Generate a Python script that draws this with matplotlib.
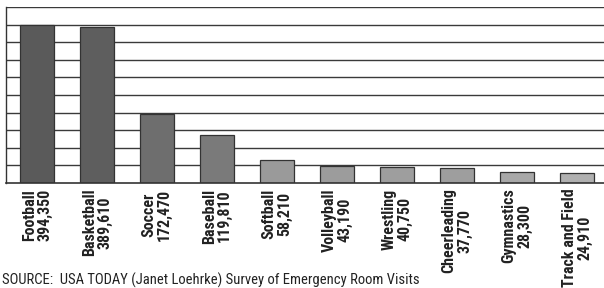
import matplotlib
matplotlib.use("Agg")
import matplotlib.pyplot as plt
from matplotlib import font_manager

sports = ["Football", "Basketball", "Soccer", "Baseball", "Softball",
          "Volleyball", "Wrestling", "Cheerleading", "Gymnastics", "Track and Field"]
visits = [394350, 389610, 172470, 119810, 58210, 43190, 40750, 37770, 28300, 24910]
value_labels = ["394,350", "389,610", "172,470", "119,810", "58,210",
                "43,190", "40,750", "37,770", "28,300", "24,910"]
bar_colors = ["#5a5a5a", "#5e5e5e", "#6e6e6e", "#7a7a7a", "#9a9a9a",
              "#9c9c9c", "#9e9e9e", "#9e9e9e", "#a8a8a8", "#b0b0b0"]
grid_values = [44000 * k for k in range(1, 11)]

names = {f.name for f in font_manager.fontManager.ttflist}
narrow = None
for cand in ["Liberation Sans Narrow", "DejaVu Sans Condensed", "Roboto Condensed",
             "Open Sans Condensed", "Noto Sans Condensed"]:
    if cand in names:
        narrow = cand
        break
if narrow:
    label_font = [narrow, "DejaVu Sans"]
    label_size = 11.5
    src_size = 10.5
else:
    label_font = ["Liberation Sans", "DejaVu Sans"]
    label_size = 9
    src_size = 9.2

fig = plt.figure(figsize=(6.04, 2.88), dpi=100)
ax = fig.add_axes([0.0099, 0.3646, 0.9901, 0.6111])

for v in grid_values:
    ax.axhline(v, color="#3a3a3a", linewidth=1.0, zorder=1)

x = list(range(len(sports)))
ax.bar(x, visits, width=0.57, color=bar_colors, edgecolor="#333333",
       linewidth=0.9, zorder=2)

ax.set_xlim(-0.517, 9.45)
ax.set_ylim(0, 440000)
ax.set_yticks([])
ax.set_xticks(x)
ax.set_xticklabels([f"{s}\n{v}" for s, v in zip(sports, value_labels)],
                   rotation=90, ha="center", va="top", multialignment="center",
                   fontsize=label_size, fontweight="bold", family=label_font,
                   color="#222222", linespacing=1.05)
ax.tick_params(axis="x", length=0, pad=4)
for side in ["top", "right"]:
    ax.spines[side].set_visible(False)
ax.spines["left"].set_color("#333333")
ax.spines["left"].set_linewidth(1.0)
ax.spines["bottom"].set_color("#333333")
ax.spines["bottom"].set_linewidth(1.2)

fig.text(0.004, 0.0, "SOURCE:  USA TODAY (Janet Loehrke) Survey of Emergency Room Visits",
         ha="left", va="bottom", color="#222222", fontsize=src_size, family=label_font)

fig.savefig("out.png", dpi=100)
